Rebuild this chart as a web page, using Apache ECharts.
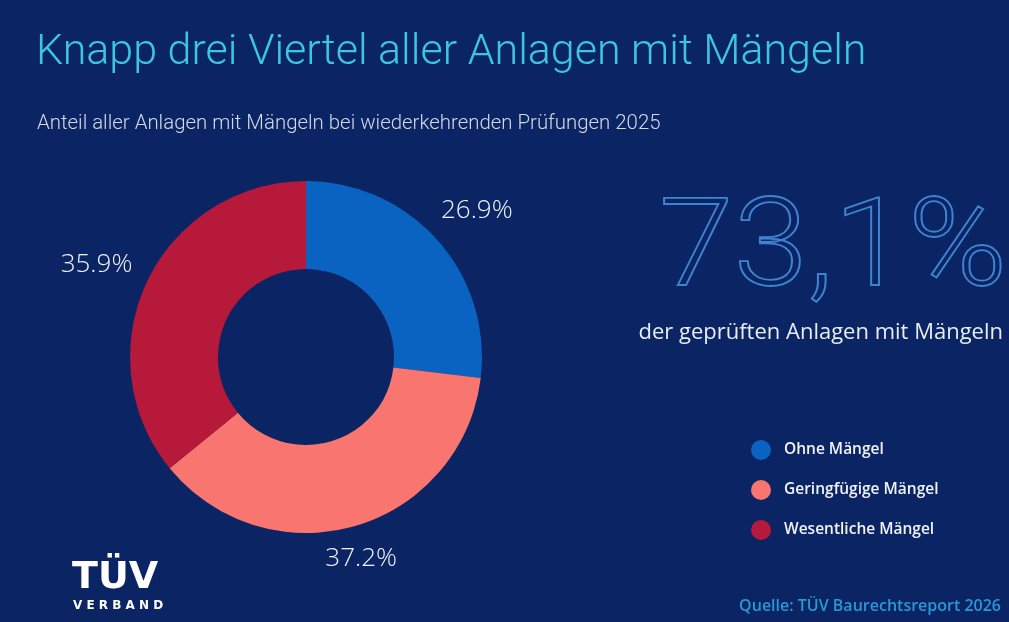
<!DOCTYPE html>
<html>
<head>
<meta charset="utf-8">
<script src="https://cdn.jsdelivr.net/npm/echarts@6/dist/echarts.min.js"></script>
<style>
  html, body { margin: 0; padding: 0; background: #0b2463; }
  #main { width: 1009px; height: 622px; }
</style>
</head>
<body>
<div id="main"></div>
<script>
var categories = ['Ohne Mängel', 'Geringfügige Mängel', 'Wesentliche Mängel'];
var shares = [26.9, 37.2, 35.9];
var colors = ['#0a63c1', '#f8766f', '#b7193b'];
var headline = '73,1%';

var chartDom = document.getElementById('main');
var myChart = echarts.init(chartDom);

var pieData = categories.map(function (name, i) {
  return { name: name, value: shares[i], itemStyle: { color: colors[i] } };
});
// zweite, unsichtbare Ringserie nur fuer die Prozentlabels
var labelData = categories.map(function (name, i) {
  return { name: name, value: shares[i], itemStyle: { color: 'rgba(0,0,0,0)' } };
});
// kleine Verschiebung der Labels (Pixel), wie im Original
var labelNudge = [[4, 2], [-7, -13], [-8, 3]];

var option = {
  backgroundColor: '#0b2463',
  title: [
    {
      text: 'Knapp drei Viertel aller Anlagen mit Mängeln',
      left: 31, top: 27,
      textStyle: { color: '#3cc6e2', fontSize: 43, fontWeight: 300, fontFamily: 'Roboto' }
    },
    {
      text: 'Anteil aller Anlagen mit Mängeln bei wiederkehrenden Prüfungen 2025',
      left: 32, top: 109,
      textStyle: { color: '#d3d9e8', fontSize: 20.4, fontWeight: 300, fontFamily: 'Roboto' }
    },
    {
      text: 'der geprüften Anlagen mit Mängeln',
      right: 1, top: 317,
      textStyle: { color: '#e8ecf4', fontSize: 22, fontWeight: 400, fontFamily: 'Open Sans' }
    },
    {
      text: 'Quelle: TÜV Baurechtsreport 2026',
      right: 3, top: 593,
      textStyle: { color: '#2a98d6', fontSize: 16, fontWeight: 600, fontFamily: 'Open Sans' }
    }
  ],
  legend: {
    orient: 'vertical',
    left: 746, top: 435,
    itemWidth: 20, itemHeight: 20, itemGap: 20,
    icon: 'circle',
    data: categories,
    textStyle: { color: '#f0f3f8', fontSize: 15.5, fontWeight: 600, fontFamily: 'Open Sans', padding: [0, 0, 0, 8] }
  },
  graphic: [
    {
      type: 'text', left: 658, top: 193,
      scaleX: 1.1,
      style: {
        text: headline,
        font: '300 122px Roboto',
        fill: 'rgba(0,0,0,0)',
        stroke: '#3f84d2',
        lineWidth: 1.8
      }
    },
    {
      type: 'text', left: 72, top: 559,
      style: { text: 'TÜV', font: 'bold 38px "DejaVu Sans"', fill: '#ffffff' }
    },
    {
      type: 'text', left: 73, top: 600,
      style: { text: 'V E R B A N D', font: 'bold 12px "DejaVu Sans"', fill: '#ffffff' }
    }
  ],
  series: [
    {
      type: 'pie',
      center: [306, 357],
      radius: [88, 176],
      startAngle: 90,
      clockwise: true,
      label: { show: false },
      labelLine: { show: false },
      emphasis: { disabled: true },
      data: pieData
    },
    {
      type: 'pie',
      center: [306, 357],
      radius: [203, 237],
      startAngle: 90,
      clockwise: true,
      silent: true,
      label: {
        show: true,
        position: 'inside',
        formatter: function (p) { return p.value.toFixed(1) + '%'; },
        color: '#eef1f7',
        fontSize: 26,
        fontWeight: 300,
        fontFamily: 'Open Sans'
      },
      labelLayout: function (params) {
        var n = labelNudge[params.dataIndex];
        return { dx: n[0], dy: n[1] };
      },
      labelLine: { show: false },
      emphasis: { disabled: true },
      data: labelData
    }
  ]
};
option && myChart.setOption(option);
</script>
</body>
</html>
